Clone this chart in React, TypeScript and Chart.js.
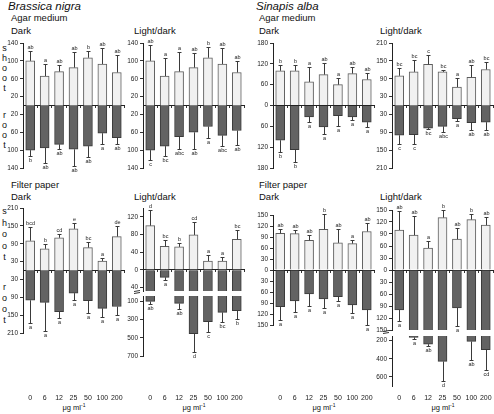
import React, { useEffect, useRef } from 'react';
import { Chart, registerables } from 'chart.js';

Chart.register(...registerables);

const FONT = '"Liberation Sans", Arial, Helvetica, sans-serif';

// ---------- categories & ticks ----------
const doses = ['0', '6', '12', '25', '50', '100', '200'];

const ticks140 = [-140, -120, -100, -80, -60, -40, -20, 0, 20, 40, 60, 80, 100, 120, 140];
const ticks180 = [-180, -150, -120, -90, -60, -30, 0, 30, 60, 90, 120, 150, 180];
const ticks210 = [-210, -180, -150, -120, -90, -60, -30, 0, 30, 60, 90, 120, 150, 180, 210];
const ticks150 = [-150, -120, -90, -60, -30, 0, 30, 60, 90, 120, 150];
const ticksFUpper = [-40, -20, 0, 20, 40, 60, 80, 100, 120, 140];
const ticksFLower = [100, 200, 300, 400, 500, 600, 700];
const ticksHLower = [200, 300, 400, 500, 600, 700];

// ---------- Brassica nigra, agar, dark ----------
const bnAgDkShoot = [100, 66, 76, 85, 107, 93, 74];
const bnAgDkShootErr = [122, 93, 90, 120, 122, 128, 112];
const bnAgDkShootLet = ['ab', 'a', 'ab', 'ab', 'b', 'ab', 'ab'];
const bnAgDkRoot = [100, 95, 87, 98, 91, 62, 72];
const bnAgDkRootErr = [114, 129, 98, 136, 116, 87, 86];
const bnAgDkRootLet = ['b', 'ab', 'ab', 'ab', 'ab', 'a', 'ab'];

// ---------- Brassica nigra, agar, light/dark ----------
const bnAgLdShoot = [100, 66, 76, 85, 107, 93, 74];
const bnAgLdShootErr = [135, 107, 120, 118, 132, 128, 100];
const bnAgLdShootLet = ['ab', 'a', 'a', 'ab', 'b', 'ab', 'ab'];
const bnAgLdRoot = [100, 91, 70, 60, 47, 67, 56];
const bnAgLdRootErr = [121, 114, 98, 98, 73, 90, 88];
const bnAgLdRootLet = ['c', 'bc', 'abc', 'ab', 'a', 'abc', 'ab'];

// ---------- Sinapis alba, agar, dark ----------
const saAgDkShoot = [100, 100, 68, 89, 60, 92, 75];
const saAgDkShootErr = [118, 118, 110, 122, 80, 112, 95];
const saAgDkShootLet = ['b', 'b', 'a', 'ab', 'a', 'ab', 'ab'];
const saAgDkRoot = [100, 127, 33, 62, 29, 33, 48];
const saAgDkRootErr = [133, 162, 48, 81, 60, 43, 62];
const saAgDkRootLet = ['b', 'b', 'a', 'a', 'a', 'a', 'a'];

// ---------- Sinapis alba, agar, light/dark ----------
const saAgLdShoot = [100, 113, 138, 113, 62, 95, 121];
const saAgLdShootErr = [126, 152, 170, 120, 93, 136, 146];
const saAgLdShootLet = ['bc', 'bc', 'c', 'bc', 'a', 'ab', 'bc'];
const saAgLdRoot = [100, 98, 76, 70, 44, 58, 56];
const saAgLdRootErr = [128, 131, 80, 90, 51, 82, 82];
const saAgLdRootLet = ['c', 'c', 'bc', 'abc', 'a', 'ab', 'ab'];

// ---------- Brassica nigra, filter paper, dark ----------
const bnFpDkShoot = [100, 73, 110, 140, 77, 32, 114];
const bnFpDkShootErr = [145, 90, 121, 158, 97, 42, 150];
const bnFpDkShootLet = ['bcd', 'b', 'cd', 'e', 'bc', 'a', 'de'];
const bnFpDkRoot = [100, 107, 138, 76, 101, 127, 121];
const bnFpDkRootErr = [175, 203, 160, 98, 144, 156, 150];
const bnFpDkRootLet = ['a', 'a', 'a', 'a', 'a', 'a', 'a'];

// ---------- Brassica nigra, filter paper, light/dark ----------
const bnFpLdShoot = [100, 53, 52, 79, 20, 20, 69];
const bnFpLdShootErr = [135, 67, 60, 108, 33, 29, 91];
const bnFpLdShootLet = ['d', 'bc', 'b', 'cd', 'a', 'a', 'bc'];
const bnFpLdRoot = [100, 17, 122, 455, 322, 220, 200];
const bnFpLdRootErr = [133, 22, 188, 660, 432, 322, 288];
const bnFpLdRootLet = ['ab', 'a', 'ab', 'd', 'c', 'bc', 'b'];

// ---------- Sinapis alba, filter paper, dark ----------
const saFpDkShoot = [100, 99, 81, 111, 74, 72, 105];
const saFpDkShootErr = [113, 108, 96, 152, 113, 83, 127];
const saFpDkShootLet = ['ab', 'ab', 'ab', 'b', 'ab', 'a', 'ab'];
const saFpDkRoot = [100, 84, 65, 79, 73, 95, 109];
const saFpDkRootErr = [137, 114, 97, 103, 85, 118, 150];
const saFpDkRootLet = ['a', 'a', 'a', 'a', 'a', 'a', 'a'];

// ---------- Sinapis alba, filter paper, light/dark ----------
const saFpLdShoot = [100, 87, 55, 131, 77, 126, 112];
const saFpLdShootErr = [148, 136, 73, 150, 104, 140, 132];
const saFpLdShootLet = ['ab', 'ab', 'a', 'b', 'ab', 'b', 'ab'];
const saFpLdRoot = [100, 165, 240, 430, 95, 210, 300];
const saFpLdRootErr = [128, 185, 265, 650, 140, 415, 520];
const saFpLdRootLet = ['a', 'a', 'ab', 'd', 'a', 'ab', 'cd'];

// axis break limits
const F_BREAK = 48;
const H_BREAK = 150;

const SHOOT_FILL = '#f1f1f1';
const SHOOT_BORDER = '#5c5c5c';
const ROOT_FILL = '#636363';
const ROOT_BORDER = '#3a3a3a';

type DS = {
  values: (number | null)[];
  errs: number[];
  lets: string[];
  show: boolean[];
  fill: string;
  border: string;
};

type Spec = {
  key: string;
  axisX: number;
  rightX: number;
  top: number;
  bottom: number;
  min: number;
  max: number;
  ticks: number[];
  reverse?: boolean;
  zeroLine: boolean;
  breakMark?: boolean;
  datasets: DS[];
  xLabelGap?: number;
};

const shootDS = (v: number[], e: number[], l: string[]): DS => ({
  values: v, errs: e, lets: l, show: v.map(() => true), fill: SHOOT_FILL, border: SHOOT_BORDER,
});
const rootDS = (v: number[], e: number[], l: string[], limit = Infinity): DS => ({
  values: v.map((x) => -x), errs: e.map((x) => -x), lets: l, show: v.map((x) => x <= limit),
  fill: ROOT_FILL, border: ROOT_BORDER,
});
const rootLowerDS = (v: number[], e: number[], l: string[], limit: number): DS => ({
  values: v.map((x) => (x > limit ? x : null)), errs: e, lets: l, show: v.map((x) => x > limit),
  fill: ROOT_FILL, border: ROOT_BORDER,
});

const errorBarPlugin = {
  id: 'errbars',
  afterDatasetsDraw(chart: any) {
    const ctx = chart.ctx as CanvasRenderingContext2D;
    const ys = chart.scales.y;
    chart.data.datasets.forEach((ds: any, di: number) => {
      const meta = chart.getDatasetMeta(di);
      if (!ds.errs) return;
      meta.data.forEach((el: any, j: number) => {
        const v = ds.data[j];
        if (v === null || v === undefined || !ds.show[j]) return;
        const x = Math.round(el.x) + 0.5;
        const y0 = ys.getPixelForValue(v);
        const y1 = Math.round(ys.getPixelForValue(ds.errs[j])) + 0.5;
        const down = y1 > y0;
        ctx.save();
        ctx.strokeStyle = '#3a3a3a';
        ctx.lineWidth = 1;
        ctx.beginPath();
        ctx.moveTo(x, y0);
        ctx.lineTo(x, y1);
        ctx.moveTo(x - 2, y1);
        ctx.lineTo(x + 2, y1);
        ctx.stroke();
        ctx.fillStyle = '#222';
        ctx.font = `5.5px ${FONT}`;
        ctx.textAlign = 'center';
        ctx.textBaseline = down ? 'top' : 'bottom';
        ctx.fillText(ds.lets[j], x, down ? y1 + 1.5 : y1 - 1);
        ctx.restore();
      });
    });
  },
};

// dose labels under the bottom-row panels, placed with the category scale
const doseLabelPlugin = {
  id: 'doselabels',
  afterDraw(chart: any, _args: any, opts: any) {
    if (opts === undefined || opts.gap === undefined || opts.gap === null) return;
    const ctx = chart.ctx as CanvasRenderingContext2D;
    const xs = chart.scales.x;
    const y = chart.chartArea.bottom + opts.gap;
    ctx.save();
    ctx.fillStyle = '#222';
    ctx.font = `7px ${FONT}`;
    ctx.textAlign = 'center';
    ctx.textBaseline = 'top';
    doses.forEach((d, i) => {
      ctx.fillText(d, xs.getPixelForValue(i), y);
    });
    ctx.restore();
  },
};

// small "=" break symbol left of the axis at the start of a lower segment
const breakPlugin = {
  id: 'breakmark',
  afterDraw(chart: any, _args: any, opts: any) {
    if (!opts || !opts.on) return;
    const ctx = chart.ctx as CanvasRenderingContext2D;
    const { left, top } = chart.chartArea;
    ctx.save();
    ctx.strokeStyle = '#333';
    ctx.lineWidth = 1;
    ctx.beginPath();
    ctx.moveTo(left - 9, top - 4.5);
    ctx.lineTo(left - 3, top - 5.5);
    ctx.moveTo(left - 9, top - 2.5);
    ctx.lineTo(left - 3, top - 3.5);
    ctx.stroke();
    ctx.restore();
  },
};

const AXW = 22;
const PT = 12;
const PR = 7;
const PB = 12;

function Panel({ spec }: { spec: Spec }) {
  const ref = useRef<HTMLCanvasElement>(null);
  const hasLabels = spec.xLabelGap !== undefined;
  const extraB = hasLabels ? (spec.xLabelGap as number) + 10 : PB;
  const w = AXW + (spec.rightX - spec.axisX) + PR;
  const h = PT + (spec.bottom - spec.top) + extraB;

  useEffect(() => {
    const scales: any = {
      x: {
        type: 'category',
        position: spec.zeroLine ? { y: 0 } : 'bottom',
        display: spec.zeroLine,
        offset: true,
        grid: { offset: true, drawOnChartArea: false, tickLength: 2, color: '#333', lineWidth: 1 },
        border: { display: true, color: '#222', width: 1 },
        ticks: { display: false },
      },
      y: {
        type: 'linear',
        min: spec.min,
        max: spec.max,
        reverse: !!spec.reverse,
        afterBuildTicks: (s: any) => {
          s.ticks = spec.ticks.map((v) => ({ value: v }));
        },
        afterFit: (s: any) => {
          s.width = AXW;
        },
        ticks: {
          callback: (v: any) => String(Math.abs(Number(v))),
          font: { size: 6.5, family: FONT },
          color: '#222',
          padding: 2,
        },
        grid: { drawOnChartArea: false, tickLength: 3, color: '#333' },
        border: { display: true, color: '#222', width: 1 },
      },
    };
    const chart = new Chart(ref.current as HTMLCanvasElement, {
      type: 'bar',
      data: {
        labels: doses,
        datasets: spec.datasets.map((d) => ({
          data: d.values,
          backgroundColor: d.fill,
          borderColor: d.border,
          borderWidth: 1,
          barThickness: 9,
          grouped: false,
          clip: 0,
          xAxisID: 'x',
          yAxisID: 'y',
          errs: d.errs,
          lets: d.lets,
          show: d.show,
        })) as any,
      },
      options: {
        responsive: false,
        animation: false,
        devicePixelRatio: 1,
        layout: { padding: { left: 0, top: PT, right: PR, bottom: extraB } },
        plugins: {
          legend: { display: false },
          tooltip: { enabled: false },
          title: { display: false },
          doselabels: { gap: hasLabels ? spec.xLabelGap : null },
          breakmark: { on: !!spec.breakMark },
        },
        scales,
      } as any,
      plugins: [errorBarPlugin, doseLabelPlugin, breakPlugin],
    });
    return () => chart.destroy();
  }, []);

  return (
    <canvas
      ref={ref}
      width={w}
      height={h}
      style={{ position: 'absolute', left: spec.axisX - AXW, top: spec.top - PT, width: w, height: h }}
    />
  );
}

const specs: Spec[] = [
  {
    key: 'A', axisX: 23, rightX: 124, top: 43, bottom: 168, min: -140, max: 140, ticks: ticks140, zeroLine: true,
    datasets: [shootDS(bnAgDkShoot, bnAgDkShootErr, bnAgDkShootLet), rootDS(bnAgDkRoot, bnAgDkRootErr, bnAgDkRootLet)],
  },
  {
    key: 'B', axisX: 143, rightX: 244, top: 43, bottom: 168, min: -140, max: 140, ticks: ticks140, zeroLine: true,
    datasets: [shootDS(bnAgLdShoot, bnAgLdShootErr, bnAgLdShootLet), rootDS(bnAgLdRoot, bnAgLdRootErr, bnAgLdRootLet)],
  },
  {
    key: 'C', axisX: 273, rightX: 374, top: 43, bottom: 168, min: -180, max: 180, ticks: ticks180, zeroLine: true,
    datasets: [shootDS(saAgDkShoot, saAgDkShootErr, saAgDkShootLet), rootDS(saAgDkRoot, saAgDkRootErr, saAgDkRootLet)],
  },
  {
    key: 'D', axisX: 392, rightX: 493, top: 43, bottom: 168, min: -210, max: 210, ticks: ticks210, zeroLine: true,
    datasets: [shootDS(saAgLdShoot, saAgLdShootErr, saAgLdShootLet), rootDS(saAgLdRoot, saAgLdRootErr, saAgLdRootLet)],
  },
  {
    key: 'E', axisX: 23, rightX: 124, top: 208, bottom: 333, min: -210, max: 210, ticks: ticks210, zeroLine: true,
    xLabelGap: 62,
    datasets: [shootDS(bnFpDkShoot, bnFpDkShootErr, bnFpDkShootLet), rootDS(bnFpDkRoot, bnFpDkRootErr, bnFpDkRootLet)],
  },
  {
    key: 'F1', axisX: 143, rightX: 244, top: 208, bottom: 291, min: -F_BREAK, max: 140, ticks: ticksFUpper, zeroLine: true,
    datasets: [
      shootDS(bnFpLdShoot, bnFpLdShootErr, bnFpLdShootLet),
      rootDS(bnFpLdRoot, bnFpLdRootErr, bnFpLdRootLet, F_BREAK),
    ],
  },
  {
    key: 'F2', axisX: 143, rightX: 244, top: 296, bottom: 356, min: 40, max: 700, reverse: true, ticks: ticksFLower,
    zeroLine: false, breakMark: true, xLabelGap: 39,
    datasets: [rootLowerDS(bnFpLdRoot, bnFpLdRootErr, bnFpLdRootLet, F_BREAK)],
  },
  {
    key: 'G', axisX: 273, rightX: 374, top: 215, bottom: 325, min: -150, max: 150, ticks: ticks150, zeroLine: true,
    xLabelGap: 70,
    datasets: [shootDS(saFpDkShoot, saFpDkShootErr, saFpDkShootLet), rootDS(saFpDkRoot, saFpDkRootErr, saFpDkRootLet)],
  },
  {
    key: 'H1', axisX: 392, rightX: 493, top: 210, bottom: 330, min: -H_BREAK, max: 150, ticks: ticks150, zeroLine: true,
    datasets: [
      shootDS(saFpLdShoot, saFpLdShootErr, saFpLdShootLet),
      rootDS(saFpLdRoot, saFpLdRootErr, saFpLdRootLet, H_BREAK),
    ],
  },
  {
    key: 'H2', axisX: 392, rightX: 493, top: 336, bottom: 386, min: H_BREAK, max: 700, reverse: true, ticks: ticksHLower,
    zeroLine: false, breakMark: true, xLabelGap: 9,
    datasets: [rootLowerDS(saFpLdRoot, saFpLdRootErr, saFpLdRootLet, H_BREAK)],
  },
];

type Txt = { t: string; x: number; y: number; s: number; i?: boolean };
const texts: Txt[] = [
  { t: 'Brassica nigra', x: 8, y: 1, s: 11.5, i: true },
  { t: 'Agar medium', x: 11, y: 13, s: 9.5 },
  { t: 'Dark', x: 11, y: 26, s: 9.5 },
  { t: 'Light/dark', x: 134, y: 26, s: 9.5 },
  { t: 'Sinapis alba', x: 256, y: 1, s: 11.5, i: true },
  { t: 'Agar medium', x: 259, y: 13, s: 9.5 },
  { t: 'Dark', x: 259, y: 26, s: 9.5 },
  { t: 'Light/dark', x: 380, y: 26, s: 9.5 },
  { t: 'Filter paper', x: 11, y: 180, s: 9.5 },
  { t: 'Dark', x: 11, y: 192, s: 9.5 },
  { t: 'Light/dark', x: 134, y: 192, s: 9.5 },
  { t: 'Filter paper', x: 259, y: 180, s: 9.5 },
  { t: 'Dark', x: 259, y: 192, s: 9.5 },
  { t: 'Light/dark', x: 380, y: 192, s: 9.5 },
];

type VWord = { w: string; y: number; step: number };
const vwords: VWord[] = [
  { w: 'shoot', y: 44, step: 10 },
  { w: 'root', y: 111, step: 10 },
  { w: 'shoot', y: 207, step: 11.5 },
  { w: 'root', y: 283, step: 11 },
];

const unitCenters = [74, 194, 324, 443];

export default function App() {
  return (
    <div
      style={{
        position: 'absolute', left: 0, top: 0, width: 494, height: 414, overflow: 'hidden',
        background: '#fff', fontFamily: FONT, color: '#111',
      }}
    >
      {texts.map((tx, k) => (
        <div
          key={'t' + k}
          style={{
            position: 'absolute', left: tx.x, top: tx.y, fontSize: tx.s, lineHeight: 1,
            fontStyle: tx.i ? 'italic' : 'normal', whiteSpace: 'nowrap',
          }}
        >
          {tx.t}
        </div>
      ))}
      {vwords.map((vw, k) =>
        vw.w.split('').map((ch, m) => (
          <div
            key={'v' + k + '-' + m}
            style={{
              position: 'absolute', left: 0, width: 9, textAlign: 'center', top: vw.y + m * vw.step,
              fontSize: 9, lineHeight: 1,
            }}
          >
            {ch}
          </div>
        ))
      )}
      {unitCenters.map((cx, k) => (
        <div
          key={'u' + k}
          style={{
            position: 'absolute', left: cx - 30, width: 60, textAlign: 'center', top: 404, fontSize: 7.5,
            lineHeight: 1, whiteSpace: 'nowrap',
          }}
        >
          μg ml<sup style={{ fontSize: 5, verticalAlign: 'top', position: 'relative', top: -1 }}>-1</sup>
        </div>
      ))}
      {specs.map((sp) => (
        <Panel key={sp.key} spec={sp} />
      ))}
    </div>
  );
}
